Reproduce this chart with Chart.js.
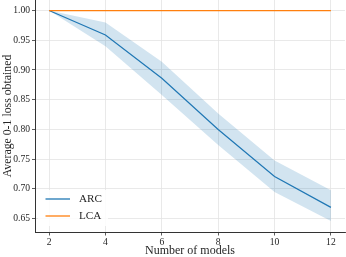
<!DOCTYPE html>
<html>
<head>
<meta charset="utf-8">
<script src="https://cdn.jsdelivr.net/npm/chart.js@4"></script>
<style>
html,body{margin:0;padding:0;background:#fff;}
#wrap{width:346px;height:257px;}
</style>
</head>
<body>
<div id="wrap"><canvas id="c" width="346" height="257"></canvas></div>
<script>
const xValues = [2, 4, 6, 8, 10, 12];
const arcMean = [1.000, 0.959, 0.886, 0.800, 0.721, 0.669];
const arcUpper = [1.000, 0.980, 0.914, 0.827, 0.748, 0.698];
const arcLower = [1.000, 0.940, 0.858, 0.774, 0.695, 0.646];
const lcaMean = [1.000, 1.000, 1.000, 1.000, 1.000, 1.000];
const xTicks = [2, 4, 6, 8, 10, 12];
const yTicks = [0.65, 0.70, 0.75, 0.80, 0.85, 0.90, 0.95, 1.00];
const yTickLabels = ['0.65', '0.70', '0.75', '0.80', '0.85', '0.90', '0.95', '1.00'];

const BLUE = '#1f77b4', ORANGE = '#ff7f0e';
const FONT = "'Liberation Serif', 'DejaVu Serif', serif";
const pts = arr => arr.map((v, i) => ({x: xValues[i], y: v}));

const legendPlugin = {
  id: 'insideLegend',
  afterDatasetsDraw(chart) {
    const ctx = chart.ctx;
    const items = chart.data.datasets.filter(d => d.showInLegend);
    ctx.save();
    ctx.fillStyle = 'rgba(255,255,255,0.85)';
    ctx.fillRect(38, 190, 70, 36);
    items.forEach((d, i) => {
      const y = 199 + i * 17;
      ctx.strokeStyle = d.borderColor;
      ctx.lineWidth = 1.3;
      ctx.beginPath();
      ctx.moveTo(45.5, y);
      ctx.lineTo(70, y);
      ctx.stroke();
      ctx.fillStyle = '#262626';
      ctx.font = "11.2px " + FONT;
      ctx.textBaseline = 'middle';
      ctx.fillText(d.label, 79, y + 0.5);
    });
    ctx.restore();
  }
};

new Chart(document.getElementById('c'), {
  type: 'line',
  data: {
    datasets: [
      {label: 'ARC upper', data: pts(arcUpper), borderWidth: 0, pointRadius: 0, fill: false, order: 5, borderColor: 'rgba(0,0,0,0)'},
      {label: 'ARC lower', data: pts(arcLower), borderWidth: 0, pointRadius: 0, fill: '-1', backgroundColor: 'rgba(31,119,180,0.2)', order: 4, borderColor: 'rgba(0,0,0,0)'},
      {label: 'ARC', data: pts(arcMean), borderColor: BLUE, borderWidth: 1.2, pointRadius: 0, fill: false, order: 2, showInLegend: true},
      {label: 'LCA', data: pts(lcaMean), borderColor: ORANGE, borderWidth: 1.2, pointRadius: 0, fill: false, order: 1, showInLegend: true}
    ]
  },
  options: {
    responsive: false,
    animation: false,
    devicePixelRatio: 1,
    layout: {autoPadding: false, padding: {top: 0, right: 1, left: 0, bottom: 0}},
    plugins: {legend: {display: false}, tooltip: {enabled: false}},
    scales: {
      x: {
        type: 'linear', min: 1.5, max: 12.5,
        afterBuildTicks: s => { s.ticks = xTicks.map(v => ({value: v})); },
        afterFit: s => { s.height = 25; s.paddingLeft = 0; s.paddingRight = 0; s.paddingTop = 0; s.paddingBottom = 0; },
        ticks: {font: {family: FONT, size: 9.6}, color: '#262626', padding: 1, maxRotation: 0, callback: v => String(v)},
        grid: {color: '#e3e3e3', lineWidth: 0.8, tickColor: '#333', tickLength: 3.5},
        border: {display: true, color: '#333', width: 1},
        title: {display: true, text: 'Number of models', font: {family: FONT, size: 12, lineHeight: 0.95}, color: '#262626', padding: {top: 0, bottom: 0}}
      },
      y: {
        type: 'linear', min: 0.6276, max: 1.0177,
        afterBuildTicks: s => { s.ticks = yTicks.map(v => ({value: v})); },
        afterFit: s => { s.width = 35; s.paddingTop = 0; s.paddingBottom = 0; s.paddingLeft = 0; s.paddingRight = 0; },
        ticks: {font: {family: FONT, size: 9.6}, color: '#262626', padding: 2,
          callback: (v) => { const i = yTicks.findIndex(t => Math.abs(t - v) < 1e-6); return i >= 0 ? yTickLabels[i] : ''; }},
        grid: {color: '#e3e3e3', lineWidth: 0.8, tickColor: '#333', tickLength: 3},
        border: {display: true, color: '#333', width: 1},
        title: {display: true, text: 'Average 0-1 loss obtained', font: {family: FONT, size: 11.8}, color: '#262626', padding: {top: 1, bottom: 0}}
      }
    }
  },
  plugins: [legendPlugin]
});
</script>
</body>
</html>
